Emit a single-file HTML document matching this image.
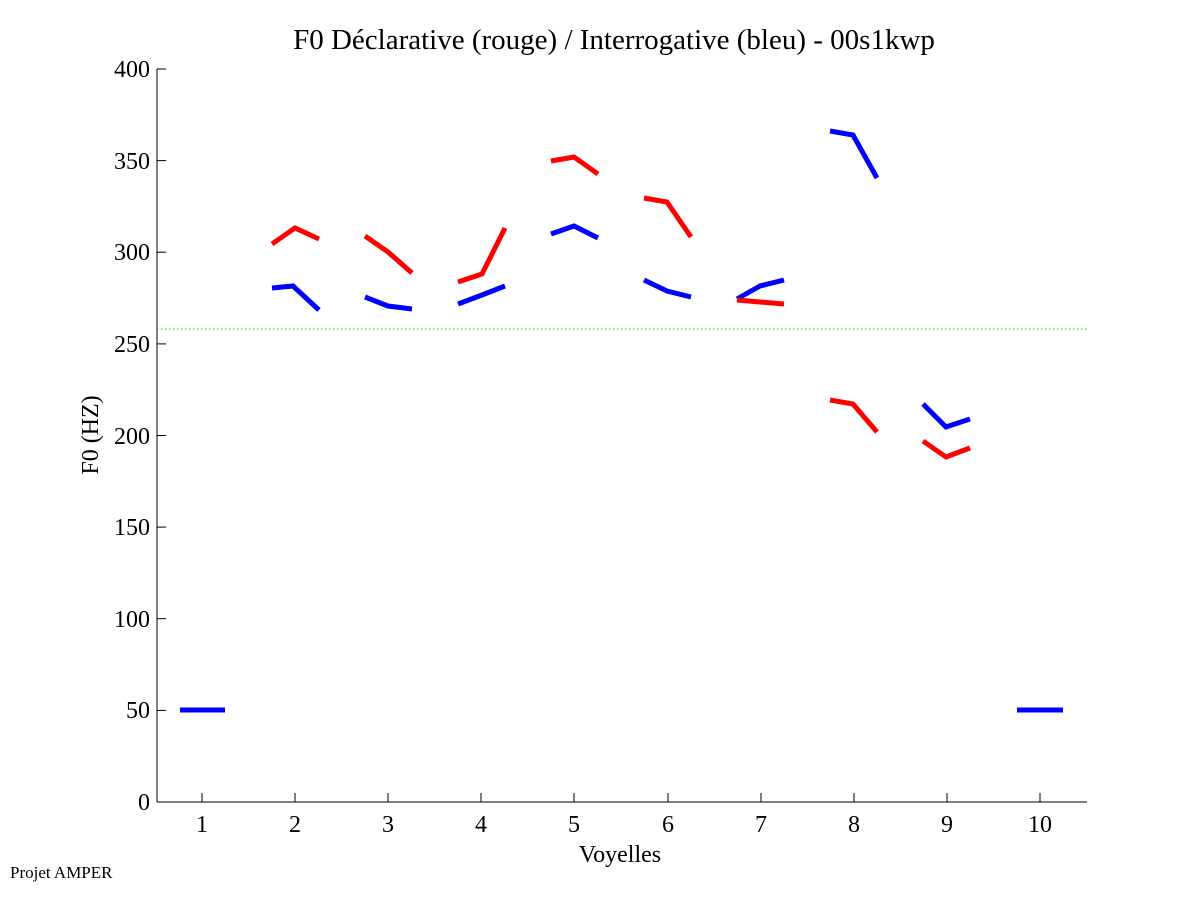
<!DOCTYPE html>
<html><head><meta charset="utf-8"><style>
body{margin:0;background:#fff;}
svg{display:block;font-family:"Liberation Serif",serif;}
</style></head><body>
<svg width="1201" height="901" viewBox="0 0 1201 901" xmlns="http://www.w3.org/2000/svg">
<rect width="1201" height="901" fill="#fff"/>
<text x="614" y="49" font-size="29" text-anchor="middle">F0 Déclarative (rouge) / Interrogative (bleu) - 00s1kwp</text>
<g stroke="#000" stroke-width="1" fill="none">
<line x1="157" y1="69" x2="157" y2="802"/>
<line x1="157" y1="802" x2="1087" y2="802"/>
<line x1="157" y1="69" x2="166" y2="69"/>
<line x1="157" y1="160.6" x2="166" y2="160.6"/>
<line x1="157" y1="252.2" x2="166" y2="252.2"/>
<line x1="157" y1="343.9" x2="166" y2="343.9"/>
<line x1="157" y1="435.5" x2="166" y2="435.5"/>
<line x1="157" y1="527.1" x2="166" y2="527.1"/>
<line x1="157" y1="618.7" x2="166" y2="618.7"/>
<line x1="157" y1="710.4" x2="166" y2="710.4"/>
<line x1="202" y1="802" x2="202" y2="793"/>
<line x1="295" y1="802" x2="295" y2="793"/>
<line x1="388" y1="802" x2="388" y2="793"/>
<line x1="481" y1="802" x2="481" y2="793"/>
<line x1="574" y1="802" x2="574" y2="793"/>
<line x1="668" y1="802" x2="668" y2="793"/>
<line x1="761" y1="802" x2="761" y2="793"/>
<line x1="854" y1="802" x2="854" y2="793"/>
<line x1="947" y1="802" x2="947" y2="793"/>
<line x1="1040" y1="802" x2="1040" y2="793"/>
</g>
<g font-size="24" text-anchor="end">
<text x="150" y="77">400</text><text x="150" y="169">350</text><text x="150" y="260">300</text>
<text x="150" y="352">250</text><text x="150" y="444">200</text><text x="150" y="535">150</text>
<text x="150" y="627">100</text><text x="150" y="718">50</text><text x="150" y="810">0</text>
</g>
<g font-size="24" text-anchor="middle">
<text x="202" y="832">1</text><text x="295" y="832">2</text><text x="388" y="832">3</text>
<text x="481" y="832">4</text><text x="574" y="832">5</text><text x="668" y="832">6</text>
<text x="761" y="832">7</text><text x="854" y="832">8</text><text x="947" y="832">9</text>
<text x="1040" y="832">10</text>
<text x="620" y="862">Voyelles</text>
</g>
<text transform="translate(98,435) rotate(-90)" font-size="24" text-anchor="middle">F0 (HZ)</text>
<text x="10" y="878" font-size="17">Projet AMPER</text>
<line x1="157" y1="329" x2="1087" y2="329" stroke="#00c000" stroke-width="1" stroke-dasharray="1.5,2.5"/>
<g fill="none" stroke="#0000ff" stroke-width="5">
<polyline points="180,710 225,710"/>
<polyline points="272,288 293,286 319,310"/>
<polyline points="365,297 388,306 412,309"/>
<polyline points="458,304 482,295 505,286"/>
<polyline points="551,234 574,226 598,238"/>
<polyline points="644,280 667,291 691,297"/>
<polyline points="737,299 760,286 784,280"/>
<polyline points="830,131 853,135 877,178"/>
<polyline points="923,404 946,427 970,419"/>
<polyline points="1017,710 1063,710"/>
</g>
<g fill="none" stroke="#ff0000" stroke-width="5">
<polyline points="272,244 295,228 319,239"/>
<polyline points="365,236 388,252 412,273"/>
<polyline points="458,282 482,274 505,228"/>
<polyline points="551,161 574,157 598,174"/>
<polyline points="644,198 667,202 691,237"/>
<polyline points="737,300 760,302 784,304"/>
<polyline points="830,400 853,404 877,432"/>
<polyline points="923,441 946,457 970,448"/>
</g>
</svg>
</body></html>
